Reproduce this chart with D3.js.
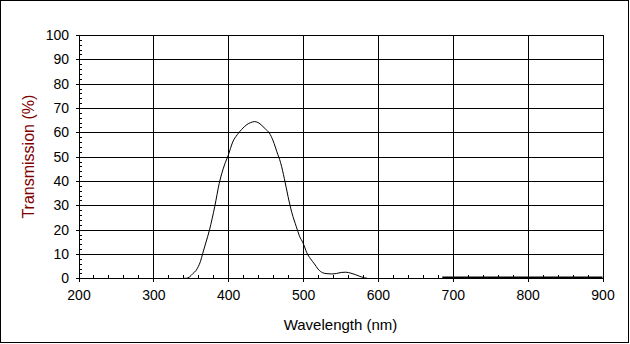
<!DOCTYPE html>
<html>
<head>
<meta charset="utf-8">
<script src="https://cdn.jsdelivr.net/npm/d3@7"></script>
<style>
html,body{margin:0;padding:0;background:#fff;}
svg{display:block;font-family:"Liberation Sans",Arial,sans-serif;}
</style>
</head>
<body>
<svg id="chart" width="630" height="344"></svg>
<script>
// Data
const wavelengths = [340,344,348,353,357,360,363,366,370,375,382,388,395,400,406,412,418,425,430,435,440,445,450,455,460,465,470,475,480,485,491,495,500,505,510,515,520,526,532,538,545,551,557,564,570,575,582,586];
const transmission = [0,0,0.5,2,3.2,4.8,7,10.3,14.5,19.9,29.5,39,46.6,50.5,56,59,61.2,63.2,64,64.4,64,62.8,61.3,59.7,56.5,52,47.5,41,33.5,27,21.2,17.5,14.5,10.5,8,6,3.8,2.3,1.9,1.8,2.0,2.4,2.5,2.1,1.5,0.9,0.2,0];
const tailWavelengths = [686,720,760,800,840,880,900];
const tailTransmission = [0.4,0.4,0.4,0.4,0.4,0.4,0.4];
const xTicks = [200,300,400,500,600,700,800,900];
const yTicks = [0,10,20,30,40,50,60,70,80,90,100];
const xTitle = "Wavelength (nm)";
const yTitle = "Transmission (%)";

const svg = d3.select("#chart");
const L = 78.5, R = 602.5, T = 35, B = 278.3;
const x = d3.scaleLinear().domain([200,900]).range([L,R]);
const y = d3.scaleLinear().domain([0,100]).range([B,T]);

// outer border
svg.append("rect").attr("x",0.5).attr("y",0.5).attr("width",628).attr("height",342)
  .attr("fill","none").attr("stroke","#000").attr("stroke-width",1);

// grid
const g = svg.append("g").attr("shape-rendering","crispEdges");
g.selectAll(".hg").data(yTicks).enter().append("line")
  .attr("x1",L).attr("x2",R).attr("y1",d=>Math.round(y(d))+0.5).attr("y2",d=>Math.round(y(d))+0.5)
  .attr("stroke","#000");
g.selectAll(".vg").data(xTicks).enter().append("line")
  .attr("y1",T).attr("y2",B).attr("x1",d=>Math.round(x(d))+0.5).attr("x2",d=>Math.round(x(d))+0.5)
  .attr("stroke","#000");

// axes with major ticks outward
const yAxis = d3.axisLeft(y).tickValues(yTicks).tickSize(3).tickPadding(7).tickFormat(d3.format("d"));
const xAxis = d3.axisBottom(x).tickValues(xTicks).tickSize(4).tickPadding(8).tickFormat(d3.format("d"));
const ya = svg.append("g").attr("transform",`translate(${Math.round(L)},0)`).call(yAxis);
const xa = svg.append("g").attr("transform",`translate(0,${Math.round(B)})`).call(xAxis);
[ya,xa].forEach(a=>{
  a.select(".domain").remove();
  a.selectAll("line").attr("stroke","#000").attr("shape-rendering","crispEdges");
  a.selectAll("text").attr("fill","#000").style("font-size","14px").style("font-family","'Liberation Sans',Arial,sans-serif");
});

// minor ticks inward
const yMinor = d3.range(0,101,2).filter(v=>v%10!==0);
const xMinor = d3.range(200,901,20).filter(v=>v%100!==0);
const ym = svg.append("g").attr("transform",`translate(${Math.round(L)},0)`)
  .call(d3.axisRight(y).tickValues(yMinor).tickSize(3).tickFormat(""));
ym.select(".domain").remove();
ym.selectAll("line").attr("stroke","#000").attr("shape-rendering","crispEdges");
const xm = svg.append("g").attr("transform",`translate(0,${Math.round(B)})`)
  .call(d3.axisTop(x).tickValues(xMinor).tickSize(3).tickFormat(""));
xm.select(".domain").remove();
xm.selectAll("line").attr("stroke","#000").attr("shape-rendering","crispEdges");

// data lines
const data = wavelengths.map((w,i)=>[w,transmission[i]]);
const tail = tailWavelengths.map((w,i)=>[w,tailTransmission[i]]);
const line = d3.line().x(d=>x(d[0])).y(d=>y(d[1])).curve(d3.curveMonotoneX);
svg.append("path").datum(data).attr("d",line).attr("fill","none").attr("stroke","#000").attr("stroke-width",1);
svg.append("path").datum(tail).attr("d",line).attr("fill","none").attr("stroke","#000").attr("stroke-width",1.5);

// titles
svg.append("text").attr("x",(L+R)/2).attr("y",330).attr("text-anchor","middle")
  .style("font-size","15px").attr("fill","#000").text(xTitle);
svg.append("text").attr("transform",`translate(34,${(T+B)/2}) rotate(-90)`).attr("text-anchor","middle")
  .style("font-size","16px").attr("fill","#800000").text(yTitle);
</script>
</body>
</html>
